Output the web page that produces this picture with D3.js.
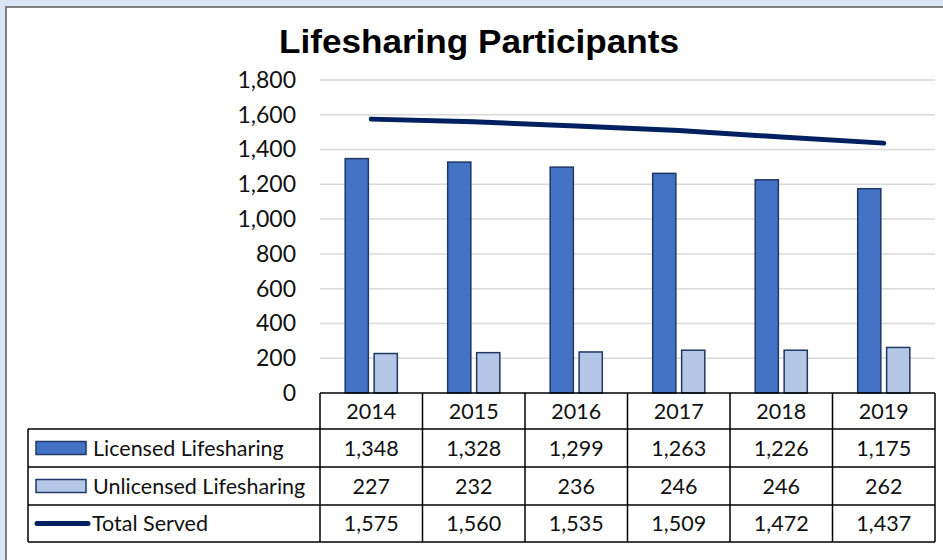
<!DOCTYPE html>
<html>
<head>
<meta charset="utf-8">
<script src="https://cdn.jsdelivr.net/npm/d3@7"></script>
<style>
  body { margin: 0; background: #dae6f3; }
  svg { display: block; }
</style>
</head>
<body>
<div id="chart-container"></div>
<script>
// data
const years = ['2014', '2015', '2016', '2017', '2018', '2019'];
const licensed = [1348, 1328, 1299, 1263, 1226, 1175];
const unlicensed = [227, 232, 236, 246, 246, 262];
const totalServed = [1575, 1560, 1535, 1509, 1472, 1437];
const yTicks = [0, 200, 400, 600, 800, 1000, 1200, 1400, 1600, 1800];
const seriesNames = ['Licensed Lifesharing', 'Unlicensed Lifesharing', 'Total Served'];

const width = 943;
const height = 560;
const plot = { left: 320, right: 935, top: 80, bottom: 393 };

const svg = d3.select('#chart-container')
  .append('svg')
  .attr('width', width)
  .attr('height', height);

// backdrop + frame
svg.append('rect').attr('width', width).attr('height', height).attr('fill', '#dae6f3');
svg.append('rect').attr('x', 7).attr('y', 8).attr('width', width - 7).attr('height', height - 8).attr('fill', '#fff');
svg.append('path').attr('d', `M6,${height} V7 H${width}`)
  .attr('fill', 'none').attr('stroke', '#808080').attr('stroke-width', 2);

// title
svg.append('text')
  .attr('x', 479).attr('y', 53)
  .attr('text-anchor', 'middle')
  .attr('font-family', 'Liberation Sans, Arial, sans-serif')
  .attr('font-weight', 'bold')
  .attr('font-size', 34)
  .attr('textLength', 400)
  .attr('lengthAdjust', 'spacingAndGlyphs')
  .text('Lifesharing Participants');

// scales
const x = d3.scaleBand()
  .domain(years)
  .range([plot.left, plot.right]);

const xSub = d3.scaleBand()
  .domain(['lic', 'unl'])
  .range([0, x.bandwidth()])
  .paddingInner(0.2)
  .paddingOuter(0.87);

const y = d3.scaleLinear()
  .domain([0, 1800])
  .range([plot.bottom, plot.top]);

// gridlines
svg.append('g')
  .selectAll('line')
  .data(yTicks.filter(d => d > 0))
  .join('line')
    .attr('x1', plot.left).attr('x2', plot.right)
    .attr('y1', d => y(d)).attr('y2', d => y(d))
    .attr('stroke', '#d9d9d9').attr('stroke-width', 1.5);

// y axis labels
const yAxis = d3.axisLeft(y).tickValues(yTicks).tickFormat(d3.format(',')).tickSize(0).tickPadding(0);
svg.append('g')
  .attr('transform', 'translate(296,0)')
  .call(yAxis)
  .call(g => g.select('.domain').remove())
  .call(g => g.selectAll('text')
    .attr('font-family', 'Lato, Carlito, Calibri, sans-serif')
    .attr('font-size', 23)
    .attr('fill', '#111'));

// bars
const barColors = { lic: '#4472c4', unl: '#b4c7e7' };
const barData = years.flatMap((yr, i) => [
  { year: yr, key: 'lic', value: licensed[i] },
  { year: yr, key: 'unl', value: unlicensed[i] }
]);

svg.append('g')
  .selectAll('rect')
  .data(barData)
  .join('rect')
    .attr('x', d => x(d.year) + xSub(d.key))
    .attr('y', d => y(d.value))
    .attr('width', xSub.bandwidth())
    .attr('height', d => y(0) - y(d.value))
    .attr('fill', d => barColors[d.key])
    .attr('stroke', '#1f3864')
    .attr('stroke-width', 1.5);

// total served line
const line = d3.line()
  .x((d, i) => x(years[i]) + x.bandwidth() / 2)
  .y(d => y(d));

svg.append('path')
  .datum(totalServed)
  .attr('d', line)
  .attr('fill', 'none')
  .attr('stroke', '#002060')
  .attr('stroke-width', 5)
  .attr('stroke-linecap', 'round')
  .attr('stroke-linejoin', 'round');

// data table
const rowY = [393, 429, 467, 505, 542];
const legendLeft = 28;
const tbl = svg.append('g');
const fontTbl = 'Lato, Carlito, Calibri, sans-serif';

// horizontal lines
tbl.append('line').attr('x1', plot.left).attr('x2', plot.right)
  .attr('y1', rowY[0]).attr('y2', rowY[0]);
tbl.selectAll('.hrow')
  .data(rowY.slice(1))
  .join('line')
    .attr('class', 'hrow')
    .attr('x1', legendLeft).attr('x2', plot.right)
    .attr('y1', d => d).attr('y2', d => d);
// vertical lines
const colEdges = years.map(yr => x(yr)).concat([plot.right]);
tbl.selectAll('.vcol')
  .data(colEdges)
  .join('line')
    .attr('class', 'vcol')
    .attr('x1', d => d).attr('x2', d => d)
    .attr('y1', rowY[0]).attr('y2', rowY[4]);
tbl.append('line').attr('x1', legendLeft).attr('x2', legendLeft)
  .attr('y1', rowY[1]).attr('y2', rowY[4]);
tbl.selectAll('line').attr('stroke', '#000').attr('stroke-width', 1.5);

// header years
tbl.selectAll('.yr')
  .data(years)
  .join('text')
    .attr('class', 'yr')
    .attr('x', d => x(d) + x.bandwidth() / 2)
    .attr('y', (rowY[0] + rowY[1]) / 2)
    .attr('dy', '0.36em')
    .attr('text-anchor', 'middle')
    .text(d => d);

// values
const rows = [licensed, unlicensed, totalServed];
const fmt = d3.format(',');
rows.forEach((vals, r) => {
  const cy = (rowY[r + 1] + rowY[r + 2]) / 2;
  tbl.append('g').selectAll('text')
    .data(vals)
    .join('text')
      .attr('x', (d, i) => x(years[i]) + x.bandwidth() / 2)
      .attr('y', cy)
      .attr('dy', '0.36em')
      .attr('text-anchor', 'middle')
      .text(d => fmt(d));

  // legend key
  if (r < 2) {
    tbl.append('rect')
      .attr('x', 36).attr('y', cy - 6.5)
      .attr('width', 50).attr('height', 13)
      .attr('fill', r === 0 ? barColors.lic : barColors.unl)
      .attr('stroke', '#1f3864').attr('stroke-width', 1.5);
  } else {
    tbl.append('line')
      .attr('x1', 37).attr('x2', 88)
      .attr('y1', cy).attr('y2', cy)
      .attr('stroke', '#002060').attr('stroke-width', 5)
      .attr('stroke-linecap', 'round');
  }
  tbl.append('text')
    .attr('x', r < 2 ? 93 : 92)
    .attr('y', cy)
    .attr('dy', '0.36em')
    .text(seriesNames[r]);
});

tbl.selectAll('text')
  .attr('font-family', fontTbl)
  .attr('font-size', 21.5)
  .attr('fill', '#111');
</script>
</body>
</html>
